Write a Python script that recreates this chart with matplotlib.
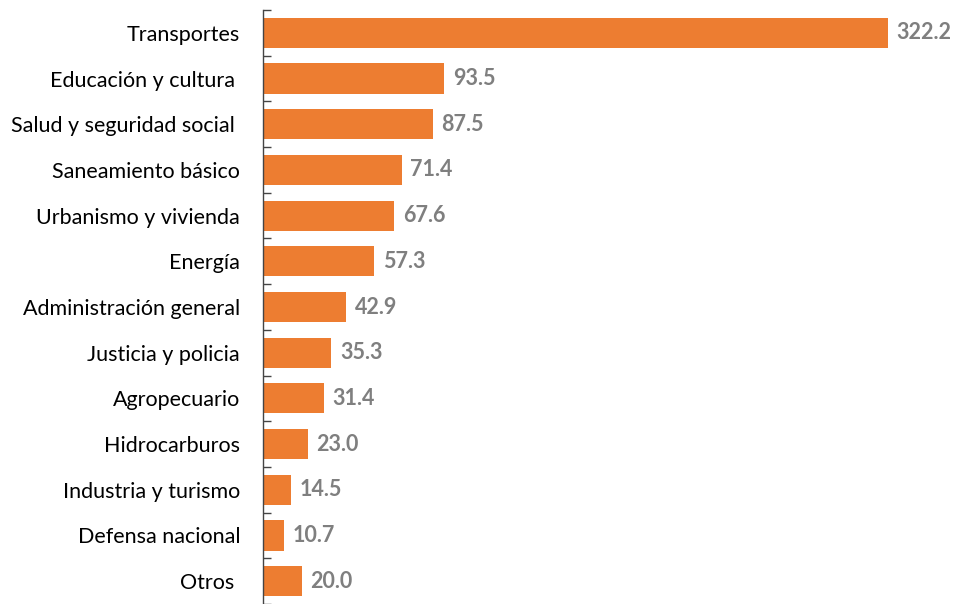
import matplotlib
matplotlib.use("Agg")
import matplotlib.pyplot as plt
import numpy as np

categories = ["Transportes", "Educación y cultura ", "Salud y seguridad social ", "Saneamiento básico",
              "Urbanismo y vivienda", "Energía", "Administración general", "Justicia y policia",
              "Agropecuario", "Hidrocarburos", "Industria y turismo", "Defensa nacional", "Otros "]
values = [322.2, 93.5, 87.5, 71.4, 67.6, 57.3, 42.9, 35.3, 31.4, 23.0, 14.5, 10.7, 20.0]

fig = plt.figure(figsize=(9.54, 6.04), dpi=100)
ax = fig.add_axes([263/954, 0.0, 1 - 263/954, 594/604])
n = len(categories)
y = np.arange(n)
ax.barh(y, values, height=0.66, color="#ED7D31")
ax.set_ylim(n - 0.5, -0.5)
ax.set_xlim(0, 322.2 * 691 / 625)
ax.set_yticks(y)
ax.set_yticklabels(categories, fontsize=15.5, family="Lato")
ax.tick_params(axis="y", length=0, pad=16.5)
ax.set_yticks(np.arange(-0.5, n, 1), minor=True)
ax.tick_params(axis="y", which="minor", direction="in", length=6, width=1, color="#444444")
ax.set_xticks([])
for s in ["top", "right", "bottom"]:
    ax.spines[s].set_visible(False)
ax.spines["left"].set_color("#444444")
ax.spines["left"].set_linewidth(1)
for yi, v in zip(y, values):
    ax.text(v + 4.5, yi, f"{v:.1f}", va="center", ha="left", fontsize=15.5,
            fontweight="bold", color="#7F7F7F", family="Lato")
fig.savefig("out.png", dpi=100)
